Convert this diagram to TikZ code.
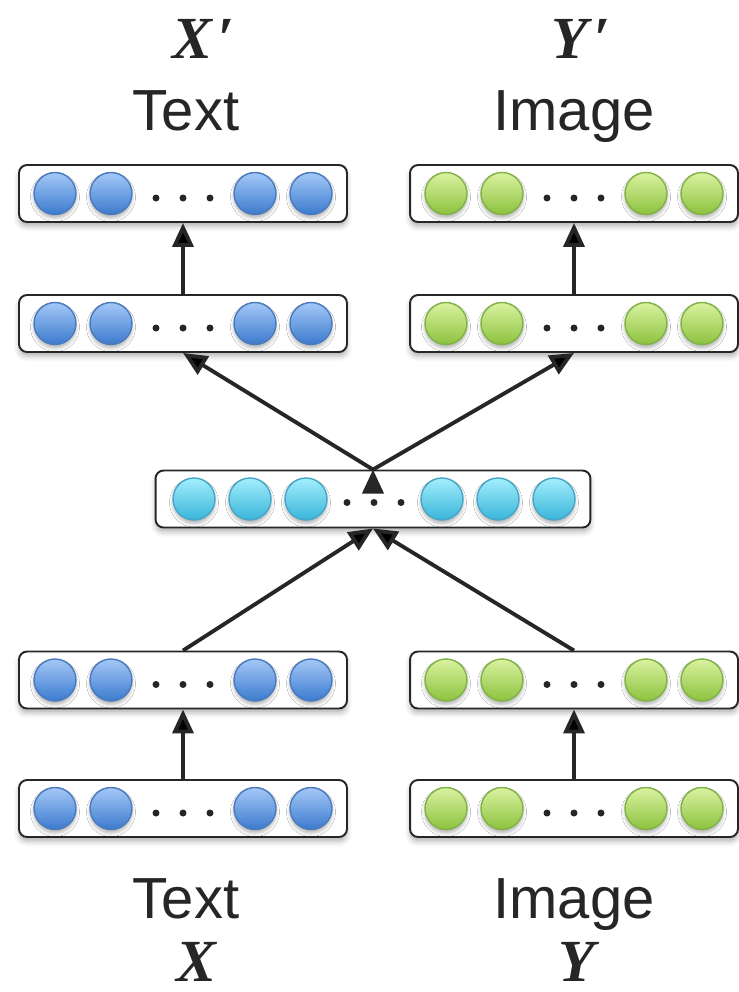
\documentclass[tikz,border=0pt]{standalone}
\usepackage{fontspec}
\setmainfont{Liberation Sans}
\newfontfamily\varfont{Liberation Serif}
\usepackage{tikz}
\usetikzlibrary{arrows.meta,shadows.blur}

\definecolor{bluetop}{RGB}{164,200,247}
\definecolor{bluebot}{RGB}{60,122,206}
\definecolor{bluerim}{RGB}{72,122,188}
\definecolor{greentop}{RGB}{218,242,160}
\definecolor{greenbot}{RGB}{140,194,62}
\definecolor{greenrim}{RGB}{128,178,70}
\definecolor{cyantop}{RGB}{164,238,252}
\definecolor{cyanbot}{RGB}{56,180,218}
\definecolor{cyanrim}{RGB}{70,166,198}

\begin{document}
\begin{tikzpicture}[x=0.02cm,y=-0.02cm]
	\tikzset{
		layer/.style={draw=black!85,line width=1.1pt,rounded corners=0.16cm,fill=white,
			minimum width=6.56cm,minimum height=1.14cm,inner sep=0pt,
			blur shadow={shadow xshift=0pt,shadow yshift=-2.5pt,shadow blur radius=3pt,shadow opacity=30}},
		unit/.style={circle,minimum size=0.84cm,inner sep=0pt,line width=0.8pt,
			blur shadow={shadow xshift=0pt,shadow yshift=-2pt,shadow blur radius=2pt,shadow opacity=30}},
		blueunit/.style={unit,draw=bluerim,top color=bluetop,bottom color=bluebot},
		greenunit/.style={unit,draw=greenrim,top color=greentop,bottom color=greenbot},
		cyanunit/.style={unit,draw=cyanrim,top color=cyantop,bottom color=cyanbot},
		dot/.style={circle,fill=black!85,minimum size=0.14cm,inner sep=0pt},
		word/.style={anchor=base,font=\fontsize{33}{33}\selectfont,text=black!85},
		var/.style={anchor=base,inner sep=0pt,font=\varfont\bfseries\itshape\fontsize{34}{34}\selectfont,text=black!85},
		>={Triangle[length=0.48cm,width=0.42cm]}
	}
	\useasboundingbox (0,0) rectangle (739,992);

	% layers, bottom to top
	\node[layer] (x0) at (183,808.5) {};
	\node[layer] (y0) at (574,808.5) {};
	\node[layer] (x1) at (183,680) {};
	\node[layer] (y1) at (574,680) {};
	\node[layer,minimum width=8.7cm] (h) at (373,499) {};
	\node[layer] (x2) at (183,323.5) {};
	\node[layer] (y2) at (574,323.5) {};
	\node[layer] (x3) at (183,193.5) {};
	\node[layer] (y3) at (574,193.5) {};

	% units in the four-unit layers
	\foreach \b/\c in {x0/blueunit,x1/blueunit,x2/blueunit,x3/blueunit,
			y0/greenunit,y1/greenunit,y2/greenunit,y3/greenunit} {
		\foreach \dx [count=\i] in {-128,-72,72,128}
			\node[\c] (\b-\i) at ([xshift=\dx*0.02cm]\b.center) {};
		\foreach \dx [count=\i] in {-27,0,27}
			\node[dot] (\b-d\i) at ([xshift=\dx*0.02cm,yshift=-0.09cm]\b.center) {};
	}
	% shared layer
	\foreach \dx [count=\i] in {-179,-123,-67,69,125,181}
		\node[cyanunit] (h-\i) at ([xshift=\dx*0.02cm]h.center) {};
	\foreach \dx [count=\i] in {-26,1,28}
		\node[dot] (h-d\i) at ([xshift=\dx*0.02cm,yshift=-0.07cm]h.center) {};

	\path[->,draw=black!85,line width=2.2pt]
		(x0) edge (x1)
		(y0) edge (y1)
		(x1.north) edge (h.south)
		(y1.north) edge (h.south)
		(h.north) edge (x2.south)
		(h.north) edge (y2.south)
		(x2) edge (x3)
		(y2) edge (y3);

	% labels
	\node[word] (xin) at (186,918) {Text};
	\node[word] (yin) at (574,918) {Image};
	\node[var] (xvar) at (196,981) {X};
	\node[var] (yvar) at (577,981) {Y};
	\node[word] (xout) at (186,130) {Text};
	\node[word] (yout) at (574,130) {Image};
	\node[var] (xvarout) at (203,58) {X\kern3pt′};
	\node[var] (yvarout) at (581,58) {Y\kern3pt′};
\end{tikzpicture}
\end{document}
